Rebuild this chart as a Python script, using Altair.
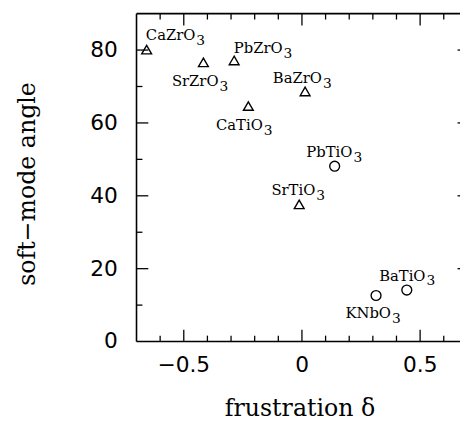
import altair as alt
import pandas as pd

# ---- data ----
formula = ["CaZrO", "SrZrO", "PbZrO", "BaZrO", "CaTiO",
           "SrTiO", "PbTiO", "KNbO", "BaTiO"]
subscript = ["3"] * 9
frustration = [-0.655, -0.415, -0.285, 0.015, -0.225, -0.01, 0.14, 0.315, 0.445]
angle = [80.0, 76.5, 77.0, 68.5, 64.5, 37.5, 48.0, 12.5, 14.0]
marker = ["triangle-up"] * 6 + ["circle"] * 3
# label anchor = where the formula ends and the subscript starts
label_x = [-0.449, -0.351, -0.080, 0.086, -0.164, 0.058, 0.215, 0.378, 0.524]
label_y = [82.7, 70.0, 79.1, 70.9, 57.8, 40.0, 50.4, 6.3, 16.6]

x_labels = [-0.5, 0.0, 0.5]
y_labels = [0, 20, 40, 60, 80]
x_major = [-0.5, 0.0, 0.5]
x_minor = [-0.6, -0.4, -0.3, -0.2, -0.1, 0.1, 0.2, 0.3, 0.4, 0.6]
y_major = [20, 40, 60, 80]
y_minor = [10, 30, 50, 70]

df = pd.DataFrame({
    "formula": formula,
    "sub": subscript,
    "frustration": frustration,
    "angle": angle,
    "marker": marker,
    "lx": label_x,
    "ly": label_y,
})

X0, X1 = -0.7, 0.67
W, H = 329, 333
xs = alt.Scale(domain=[X0, X1], nice=False, zero=False)
ys = alt.Scale(domain=[0, 90], nice=False, zero=False)

SERIF = "DejaVu Serif"
SANS = "DejaVu Sans"


def tick_axis(orient, values, size, offset, domain=False):
    return alt.Axis(orient=orient, values=values, tickSize=size, offset=offset,
                    labels=False, domain=domain, grid=False, ticks=True,
                    tickColor="black", tickWidth=1.3,
                    domainColor="black", domainWidth=1.6)


x_label_axis = alt.Axis(orient="bottom", values=x_labels, format=".1~f",
                        ticks=False, tickSize=0, domain=False, grid=False,
                        labelFont=SANS, labelFontSize=22, labelColor="black",
                        labelPadding=14, labelFlush=False, labelOverlap=False,
                        titleFont=SERIF, titleFontSize=24, titleFontWeight="normal",
                        titleColor="black", titleX=166, titleY=76,
                        titleBaseline="alphabetic", titleAlign="center")
y_label_axis = alt.Axis(orient="left", values=y_labels, format="d",
                        ticks=False, tickSize=0, domain=False, grid=False,
                        labelFont=SANS, labelFontSize=22, labelColor="black",
                        labelPadding=19, labelFlush=False, labelOverlap=False,
                        titleFont=SERIF, titleFontSize=24, titleFontWeight="normal",
                        titleColor="black", titleX=-103, titleY=173,
                        titleAngle=270, titleBaseline="alphabetic", titleAlign="center")

base = alt.Chart(df)

points = base.mark_point(filled=False, size=100, strokeWidth=1.4, color="black", opacity=1).encode(
    x=alt.X("frustration:Q", scale=xs, axis=x_label_axis, title="frustration δ"),
    y=alt.Y("angle:Q", scale=ys, axis=y_label_axis, title="soft−mode angle"),
    shape=alt.Shape("marker:N", scale=None),
)

# bottom frame + inward major ticks (x);  left frame + inward major ticks (y)
labels = base.mark_text(font=SERIF, fontSize=15, color="black", align="right",
                        baseline="alphabetic").encode(
    x=alt.X("lx:Q", scale=xs, axis=tick_axis("top", x_major, 12, -H, True), title=None),
    y=alt.Y("ly:Q", scale=ys, axis=tick_axis("right", y_major, 12, -W, True), title=None),
    text="formula:N",
)

# inward minor ticks at bottom and left
subs = base.mark_text(font=SERIF, fontSize=14, color="black", align="left",
                      baseline="alphabetic", dx=1, dy=5).encode(
    x=alt.X("lx:Q", scale=xs, axis=tick_axis("top", x_minor, 6, -H), title=None),
    y=alt.Y("ly:Q", scale=ys, axis=tick_axis("right", y_minor, 6, -W), title=None),
    text="sub:N",
)

# top frame + inward major ticks; right edge stubs (frame lies just outside the picture)
d2 = base.mark_point(opacity=0).encode(
    x=alt.X("frustration:Q", scale=xs, axis=tick_axis("bottom", x_major, 12, -H, True), title=None),
    y=alt.Y("angle:Q", scale=ys, axis=tick_axis("left", y_major, 3, -W), title=None),
)
d3 = base.mark_point(opacity=0).encode(
    x=alt.X("frustration:Q", scale=xs, axis=tick_axis("bottom", x_minor, 6, -H), title=None),
    y=alt.Y("angle:Q", scale=ys, axis=None),
)

chart = alt.layer(points, labels, subs, d2, d3).resolve_axis(
    x="independent", y="independent"
).properties(
    width=W, height=H,
    autosize=alt.AutoSizeParams(type="none"),
    padding={"left": 130, "top": 2, "right": 0, "bottom": 80},
).configure_view(strokeWidth=0).configure(background="white")

chart.save("out.html", embed_options={"renderer": "svg", "actions": False})
